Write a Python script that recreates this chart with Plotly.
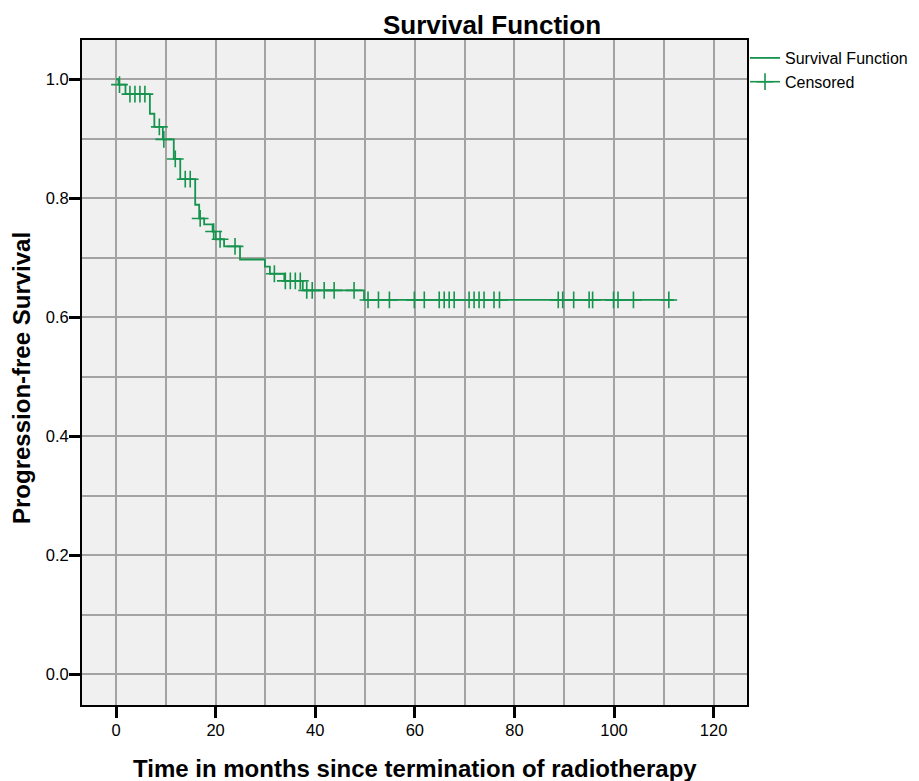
import numpy as np
import plotly.graph_objects as go

# Kaplan-Meier step data
event_times = [0.5, 1.9, 6.8, 7.7, 9.4, 11.6, 12.9, 15.9, 16.7, 17.7, 19.4, 20.0, 21.7, 24.9, 29.9, 30.9, 33.8, 37.5, 49.8]
survival_levels = [0.991, 0.975, 0.942, 0.920, 0.899, 0.866, 0.832, 0.789, 0.766, 0.756, 0.744, 0.731, 0.719, 0.697, 0.685, 0.673, 0.661, 0.645, 0.629]
follow_up_end = 112.0

censored_times = [0.7, 2.8, 3.8, 4.8, 5.8, 8.7, 9.6, 11.9, 13.9, 14.9, 16.9, 19.6, 20.9, 23.9,
                  31.8, 34.0, 35.0, 36.0, 37.0, 38.3, 39.4, 41.8, 43.8, 47.8,
                  50.6, 52.7, 54.9, 59.9, 61.9, 64.9, 65.9, 66.9, 67.9, 70.9, 71.9, 72.9, 73.9,
                  75.9, 77.0, 88.8, 89.7, 91.9, 95.0, 95.7, 99.9, 100.8, 103.9, 111.0]

x_ticks = [0, 20, 40, 60, 80, 100, 120]
y_ticks = [0.0, 0.2, 0.4, 0.6, 0.8, 1.0]
y_tick_labels = ["0.0", "0.2", "0.4", "0.6", "0.8", "1.0"]

GREEN = "#16944e"
GRID = "#a3a3a3"

step_x = [0.0] + event_times + [follow_up_end]
step_y = [1.0] + survival_levels + [survival_levels[-1]]

levels_arr = np.array([1.0] + survival_levels)
idx = np.searchsorted(np.array(event_times), np.array(censored_times), side="right")
censored_y = levels_arr[idx]

fig = go.Figure()
fig.add_trace(go.Scatter(
    x=step_x, y=step_y, mode="lines", line=dict(shape="hv", color=GREEN, width=1.8),
    name="Survival Function", showlegend=True))
fig.add_trace(go.Scatter(
    x=censored_times, y=censored_y, mode="markers",
    marker=dict(symbol="cross-thin", size=12, line=dict(color=GREEN, width=1.6), color=GREEN),
    name="Censored", showlegend=False))
fig.add_trace(go.Scatter(
    x=[None], y=[None], mode="lines+markers",
    line=dict(color=GREEN, width=1.6),
    marker=dict(symbol="cross-thin", size=12, line=dict(color=GREEN, width=1.6), color=GREEN),
    name="Censored", showlegend=True))

# page body has an 8px margin -> work in coordinates shifted by 8px
OFF = 8
W, H = 919, 781
L, R, T, B = 82 - OFF, 747 - OFF, 40 - OFF, 705 - OFF
PW, PH = R - L, B - T

fig.update_layout(
    width=W, height=H,
    margin=dict(l=L, r=W - R, t=T, b=H - B),
    paper_bgcolor="white", plot_bgcolor="#f0f0f0",
    font=dict(family="Liberation Sans, Arial, sans-serif", size=16, color="black"),
    title=dict(text="<b>Survival Function</b>", x=(492 - OFF) / W, xanchor="center",
               y=1 - (25 - OFF) / H, yanchor="middle", font=dict(size=26)),
    legend=dict(xref="paper", yref="paper",
                x=(745 - 82) / PW, xanchor="left", y=(705 - 41) / PH, yanchor="top",
                bgcolor="rgba(0,0,0,0)", font=dict(size=16), tracegroupgap=0, itemwidth=30),
    showlegend=True,
    annotations=[
        dict(text="<b>Time in months since termination of radiotherapy</b>", xref="paper", yref="paper",
             x=(415 - 82) / PW, y=(705 - 768) / PH, xanchor="center", yanchor="middle",
             showarrow=False, font=dict(size=24)),
        dict(text="<b>Progression-free Survival</b>", xref="paper", yref="paper",
             x=(21 - 82) / PW, y=(705 - 378) / PH, xanchor="center", yanchor="middle",
             textangle=-90, showarrow=False, font=dict(size=24)),
    ],
)
fig.update_xaxes(
    range=[-6.83, 126.7], tickvals=x_ticks, ticktext=[str(v) for v in x_ticks],
    showgrid=True, gridcolor=GRID, gridwidth=1.5,
    minor=dict(dtick=10, tick0=0, showgrid=True, gridcolor=GRID, gridwidth=1.5),
    showline=True, linecolor="black", linewidth=2, mirror=True,
    ticks="outside", ticklen=11, tickwidth=2.5, tickcolor="black", zeroline=False,
    automargin=False, tickfont=dict(size=16.5), ticklabelstandoff=-2,
)
fig.update_yaxes(
    range=[-0.052, 1.066], tickvals=y_ticks, ticktext=y_tick_labels,
    showgrid=True, gridcolor=GRID, gridwidth=1.5,
    minor=dict(dtick=0.1, tick0=0, showgrid=True, gridcolor=GRID, gridwidth=1.5),
    showline=True, linecolor="black", linewidth=2, mirror=True,
    ticks="outside", ticklen=11, tickwidth=2.5, tickcolor="black", zeroline=False,
    automargin=False, tickfont=dict(size=16.5), ticklabelstandoff=-3,
)

fig.write_html("out.html")
